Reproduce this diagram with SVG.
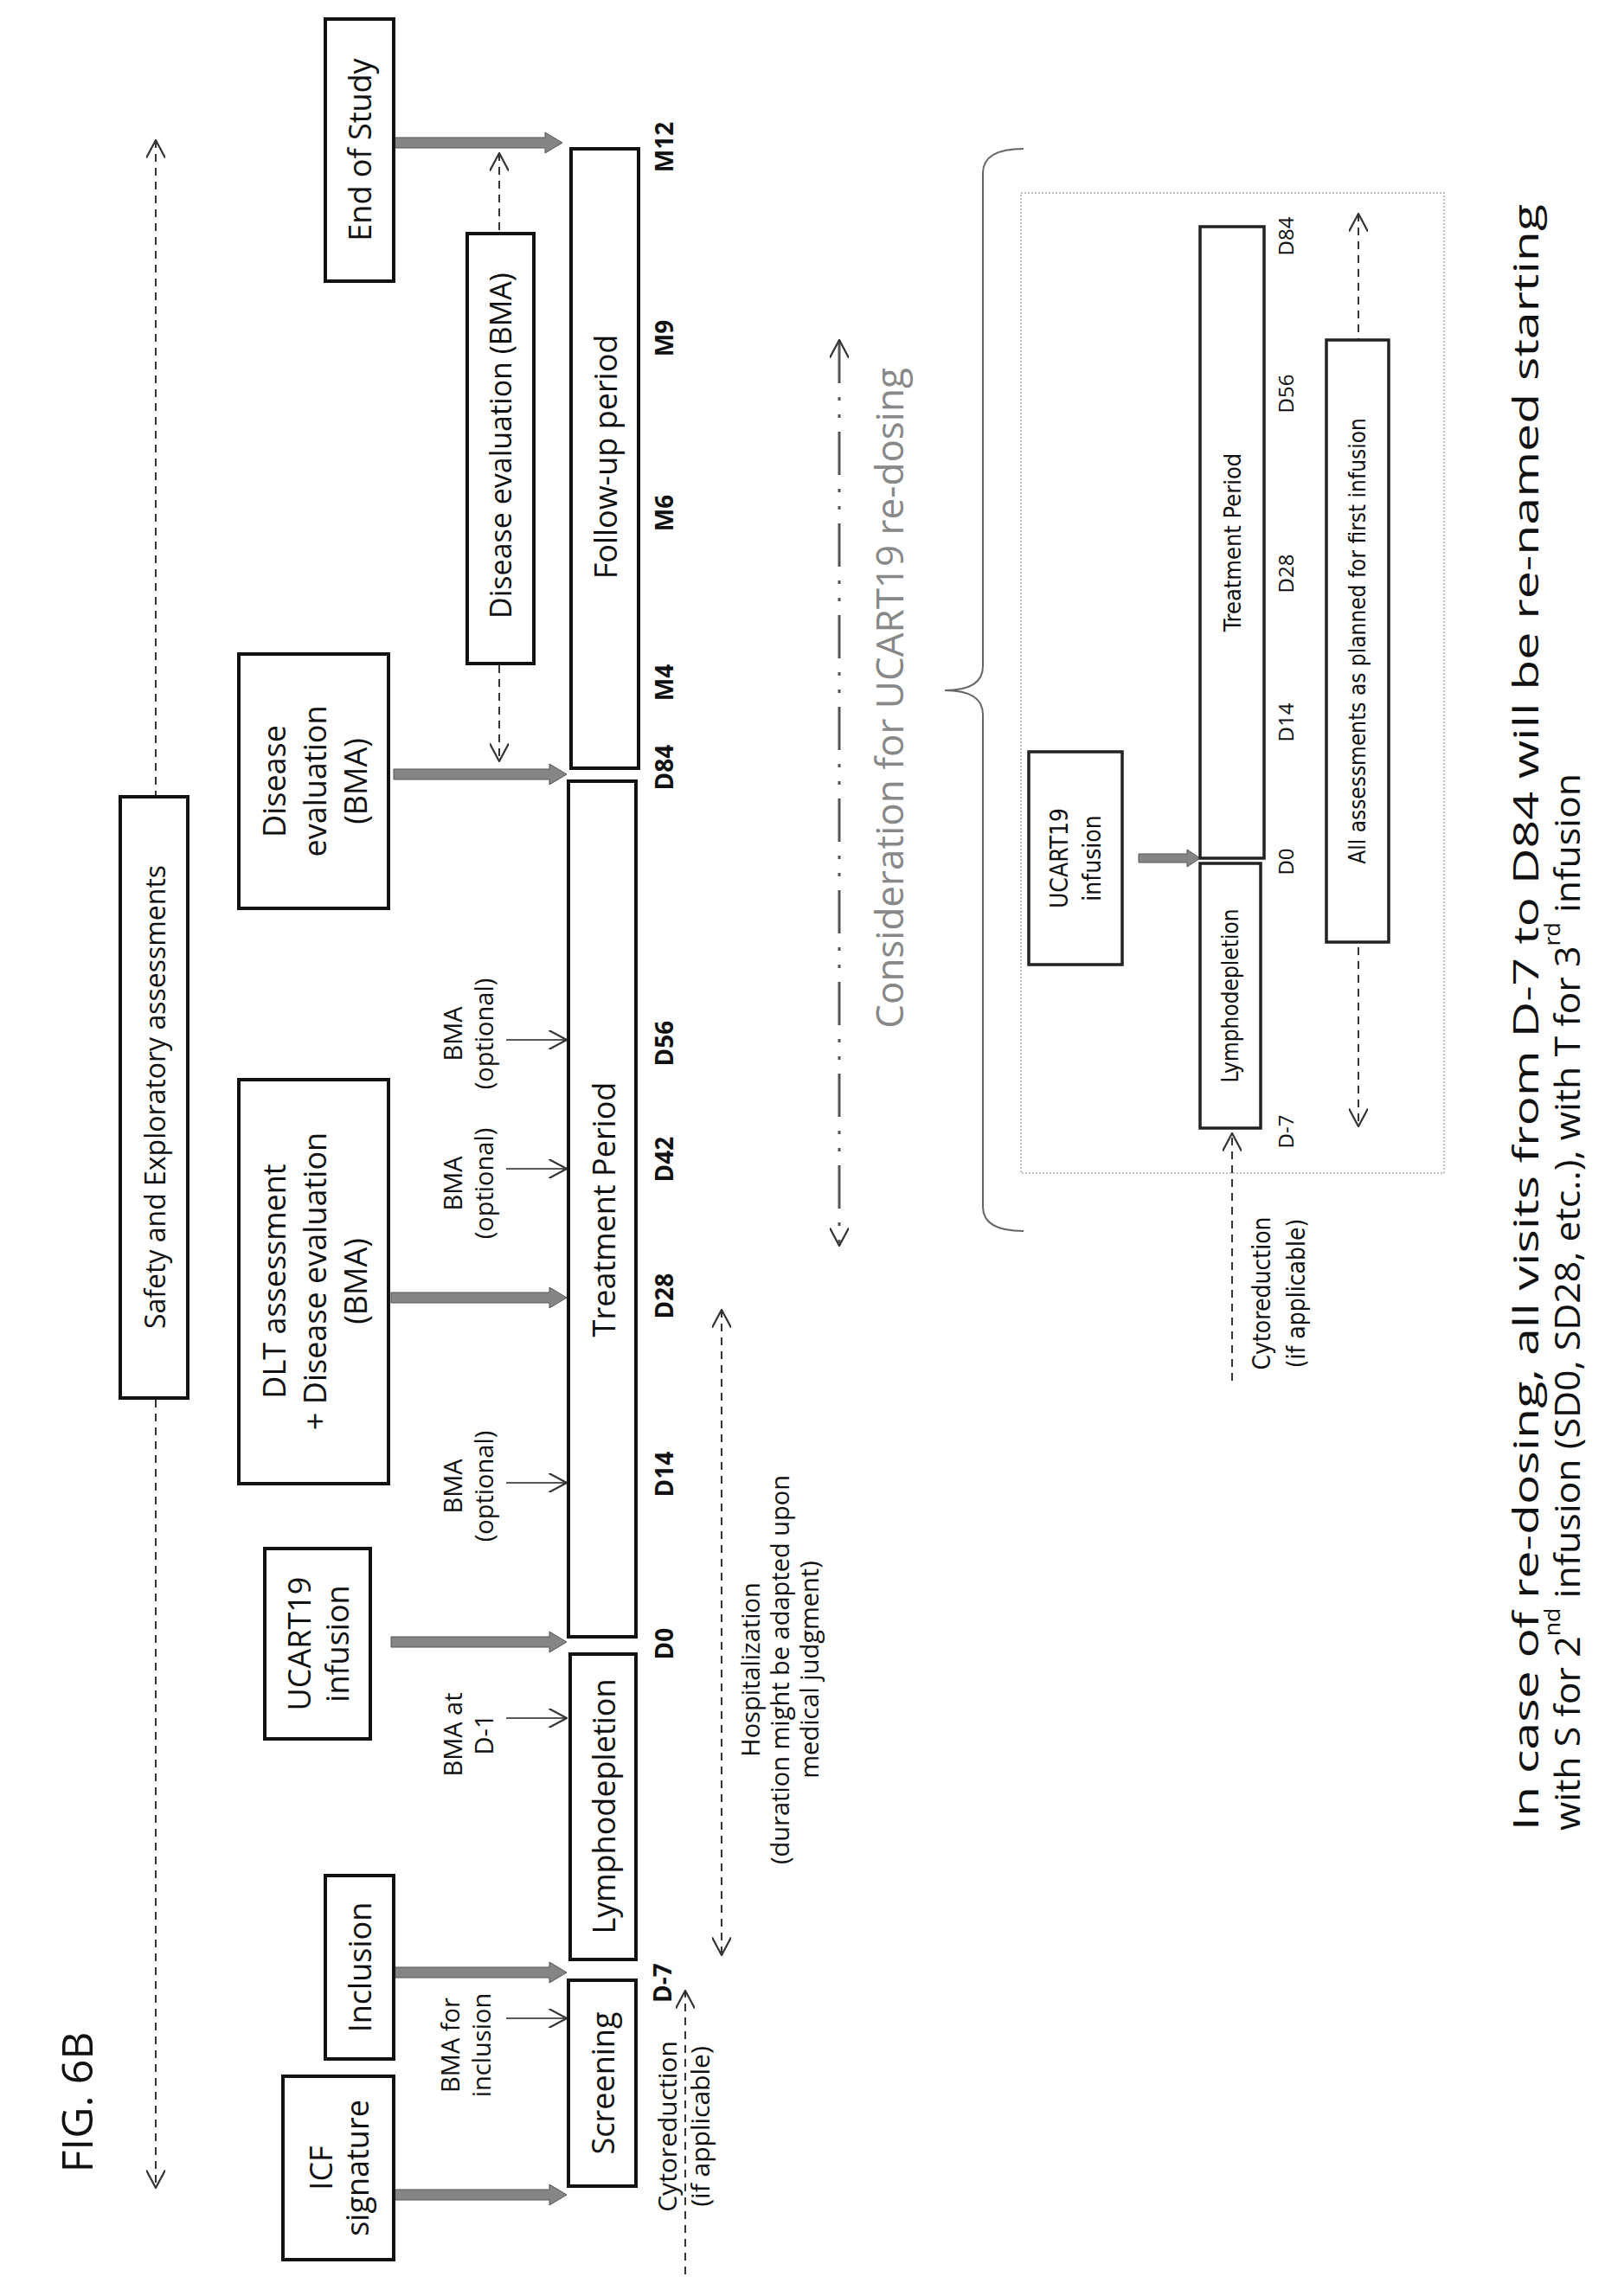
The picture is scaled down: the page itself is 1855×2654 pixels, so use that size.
<svg xmlns="http://www.w3.org/2000/svg" width="1855" height="2654" viewBox="0 0 1855 2654">
<defs>
<marker id="openL" viewBox="0 0 16 16" refX="15" refY="8" markerWidth="22" markerHeight="22" markerUnits="userSpaceOnUse" orient="auto-start-reverse"><path d="M0,0 L15,8 L0,16" fill="none" stroke="#333" stroke-width="1.6"/></marker>
</defs>
<style>
text{font-family:"Open Sans","Liberation Sans",sans-serif;fill:#111;text-anchor:middle;dominant-baseline:central}
.box{fill:#fff;stroke:#111;stroke-width:4}
.sbox{fill:#fff;stroke:#222;stroke-width:3.5}
.dash{fill:none;stroke:#333;stroke-width:2;stroke-dasharray:9 7}
.thin{fill:none;stroke:#222;stroke-width:1.6}
.thick{fill:#858585;stroke:#555;stroke-width:1}
.lbl{font-weight:bold;font-size:28px}
.c{font-family:"DejaVu Sans Condensed","Liberation Sans Narrow","Liberation Sans",sans-serif}
</style>
<rect width="1855" height="2654" fill="#fff"/>
<g id="connectors">
<line class="dash" x1="180" y1="162" x2="180" y2="2529" marker-start="url(#openL)" marker-end="url(#openL)"/>
<line class="dash" x1="577" y1="177" x2="577" y2="880" marker-start="url(#openL)" marker-end="url(#openL)"/>
<line class="dash" x1="792" y1="2629" x2="792" y2="2301" marker-end="url(#openL)"/>
<line class="dash" x1="834" y1="1514" x2="834" y2="2260" marker-start="url(#openL)" marker-end="url(#openL)"/>
<g class="thin">
<line x1="585" y1="2333" x2="655" y2="2333" marker-end="url(#openL)"/>
<line x1="585" y1="1986" x2="655" y2="1986" marker-end="url(#openL)"/>
<line x1="585" y1="1714" x2="655" y2="1714" marker-end="url(#openL)"/>
<line x1="585" y1="1351" x2="655" y2="1351" marker-end="url(#openL)"/>
<line x1="585" y1="1202" x2="655" y2="1202" marker-end="url(#openL)"/>
</g>
<g class="thick">
<polygon points="455,2531 635,2531 635,2525 655,2537 635,2549 635,2543 455,2543"/>
<polygon points="455,2274 635,2274 635,2268 655,2280 635,2292 635,2286 455,2286"/>
<polygon points="452,1892 635,1892 635,1886 655,1898 635,1910 635,1904 452,1904"/>
<polygon points="452,1494 635,1494 635,1488 655,1500 635,1512 635,1506 452,1506"/>
<polygon points="455,889 635,889 635,883 655,895 635,907 635,901 455,901"/>
<polygon points="455,159 630,159 630,153 650,165 630,177 630,171 455,171"/>
<polygon points="1316,987 1372,987 1372,982 1387,992 1372,1002 1372,997 1316,997"/>
</g>
<line x1="970" y1="393" x2="970" y2="1440" fill="none" stroke="#555" stroke-width="3" stroke-dasharray="50 16 4 16 4 16" marker-start="url(#openL)" marker-end="url(#openL)"/>
<line class="dash" x1="1570" y1="247" x2="1570" y2="1302" marker-start="url(#openL)" marker-end="url(#openL)"/>
<line class="dash" x1="1424" y1="1596" x2="1424" y2="1310" marker-end="url(#openL)"/>
<path d="M1183,172 Q1136,172 1136,200 L1136,770 Q1136,798 1092,798 Q1136,798 1136,826 L1136,1395 Q1136,1423 1183,1423" fill="none" stroke="#666" stroke-width="2"/>
</g>
<g id="title"><text transform="translate(88 2430) rotate(-90)" font-size="50">FIG. 6B</text></g>
<g id="safety"><rect class="box" x="139" y="921" width="78" height="695"/><text transform="translate(178 1268) rotate(-90)" font-size="32">Safety and Exploratory assessments</text></g>
<g id="icf"><rect class="box" x="327" y="2400" width="128" height="212"/><text transform="translate(391 2506) rotate(-90)" font-size="36"><tspan x="0" y="-21">ICF</tspan><tspan x="0" y="21">signature</tspan></text></g>
<g id="inclusion"><rect class="box" x="376" y="2168" width="79" height="212"/><text transform="translate(415 2274) rotate(-90)" font-size="36">Inclusion</text></g>
<g id="ucart"><rect class="box" x="306" y="1790" width="122" height="220"/><text transform="translate(367 1900) rotate(-90)" font-size="36"><tspan x="0" y="-22">UCART19</tspan><tspan x="0" y="22">infusion</tspan></text></g>
<g id="dlt"><rect class="box" x="276" y="1248" width="173" height="467"/><text transform="translate(363 1481) rotate(-90)" font-size="36"><tspan x="0" y="-47">DLT assessment</tspan><tspan x="0" y="0">+ Disease evaluation</tspan><tspan x="0" y="47">(BMA)</tspan></text></g>
<g id="disease"><rect class="box" x="276" y="756" width="173" height="294"/><text transform="translate(363 903) rotate(-90)" font-size="36"><tspan x="0" y="-47">Disease</tspan><tspan x="0" y="0">evaluation</tspan><tspan x="0" y="47">(BMA)</tspan></text></g>
<g id="end"><rect class="box" x="376" y="22" width="79" height="303"/><text transform="translate(415 173) rotate(-90)" font-size="36">End of Study</text></g>
<g id="disease2"><rect class="box" x="540" y="270" width="77" height="497"/><text transform="translate(578 515) rotate(-90)" font-size="34">Disease evaluation (BMA)</text></g>
<g id="screening"><rect class="box" x="657" y="2289" width="78" height="238"/><text transform="translate(696 2408) rotate(-90)" font-size="36">Screening</text></g>
<g id="lympho"><rect class="box" x="659" y="1912" width="76" height="353"/><text transform="translate(697 2088) rotate(-90)" font-size="36">Lymphodepletion</text></g>
<g id="treatment"><rect class="box" x="657" y="903" width="78" height="989"/><text transform="translate(697 1398) rotate(-90)" font-size="36">Treatment Period</text></g>
<g id="followup"><rect class="box" x="660" y="172" width="78" height="716"/><text transform="translate(699 528) rotate(-90)" font-size="36">Follow-up period</text></g>
<g id="bma" font-size="29">
<text transform="translate(537 2364) rotate(-90)"><tspan x="0" y="-18">BMA for</tspan><tspan x="0" y="18">inclusion</tspan></text>
<text transform="translate(540 2005) rotate(-90)"><tspan x="0" y="-18">BMA at</tspan><tspan x="0" y="18">D-1</tspan></text>
<text transform="translate(540 1718) rotate(-90)"><tspan x="0" y="-18">BMA</tspan><tspan x="0" y="18">(optional)</tspan></text>
<text transform="translate(540 1368) rotate(-90)"><tspan x="0" y="-18">BMA</tspan><tspan x="0" y="18">(optional)</tspan></text>
<text transform="translate(540 1195) rotate(-90)"><tspan x="0" y="-18">BMA</tspan><tspan x="0" y="18">(optional)</tspan></text>
</g>
<g id="labels" class="lbl">
<text transform="translate(765 2292) rotate(-90)">D-7</text>
<text transform="translate(767 1900) rotate(-90)">D0</text>
<text transform="translate(767 1704) rotate(-90)">D14</text>
<text transform="translate(767 1498) rotate(-90)">D28</text>
<text transform="translate(767 1340) rotate(-90)">D42</text>
<text transform="translate(767 1206) rotate(-90)">D56</text>
<text transform="translate(767 887) rotate(-90)">D84</text>
<text transform="translate(767 789) rotate(-90)">M4</text>
<text transform="translate(767 593) rotate(-90)">M6</text>
<text transform="translate(767 391) rotate(-90)">M9</text>
<text transform="translate(767 170) rotate(-90)">M12</text>
</g>
<g id="cyto1"><text transform="translate(790 2458) rotate(-90)" font-size="30"><tspan x="0" y="-20">Cytoreduction</tspan><tspan x="0" y="18">(if applicable)</tspan></text></g>
<g id="hosp"><text transform="translate(900 1930) rotate(-90)" font-size="29"><tspan x="0" y="-34">Hospitalization</tspan><tspan x="0" y="0">(duration might be adapted upon</tspan><tspan x="0" y="34">medical judgment)</tspan></text></g>
<g id="consideration"><text transform="translate(1027 807) rotate(-90)" font-size="44" style="fill:#888">Consideration for UCART19 re-dosing</text></g>
<g id="redose-frame"><rect x="1180" y="223" width="489" height="1133" fill="none" stroke="#aaa" stroke-width="1.5" stroke-dasharray="2 2"/></g>
<g id="ucart2"><rect class="sbox" x="1189" y="869" width="108" height="246"/><text class="c" transform="translate(1243 992) rotate(-90)" font-size="28"><tspan x="0" y="-19">UCART19</tspan><tspan x="0" y="19">infusion</tspan></text></g>
<g id="lympho2"><rect class="sbox" x="1387" y="998" width="70" height="306"/><text class="c" transform="translate(1422 1151) rotate(-90)" font-size="26">Lymphodepletion</text></g>
<g id="treatment2"><rect class="sbox" x="1387" y="262" width="74" height="730"/><text class="c" transform="translate(1424 627) rotate(-90)" font-size="27">Treatment Period</text></g>
<g id="all"><rect class="sbox" x="1533" y="393" width="72" height="696"/><text class="c" transform="translate(1569 741) rotate(-90)" font-size="26">All assessments as planned for first infusion</text></g>
<g id="labels2" class="c" font-size="24">
<text transform="translate(1485 273) rotate(-90)">D84</text>
<text transform="translate(1485 455) rotate(-90)">D56</text>
<text transform="translate(1485 663) rotate(-90)">D28</text>
<text transform="translate(1485 835) rotate(-90)">D14</text>
<text transform="translate(1485 996) rotate(-90)">D0</text>
<text transform="translate(1485 1308) rotate(-90)">D-7</text>
</g>
<g id="cyto2"><text class="c" transform="translate(1478 1495) rotate(-90)" font-size="28"><tspan x="0" y="-20">Cytoreduction</tspan><tspan x="0" y="20">(if applicable)</tspan></text></g>
<g id="footer" font-size="40">
<text transform="translate(1762 2116) rotate(-90)" style="text-anchor:start" textLength="1880" lengthAdjust="spacingAndGlyphs">In case of re-dosing, all visits from D-7  to D84 will be re-named starting</text>
<text transform="translate(1810 2116) rotate(-90)" style="text-anchor:start" textLength="1222" lengthAdjust="spacingAndGlyphs">with S for 2<tspan font-size="25" baseline-shift="super">nd</tspan> infusion (SD0, SD28, etc..), with T for 3<tspan font-size="25" baseline-shift="super">rd</tspan> infusion</text>
</g>
</svg>
